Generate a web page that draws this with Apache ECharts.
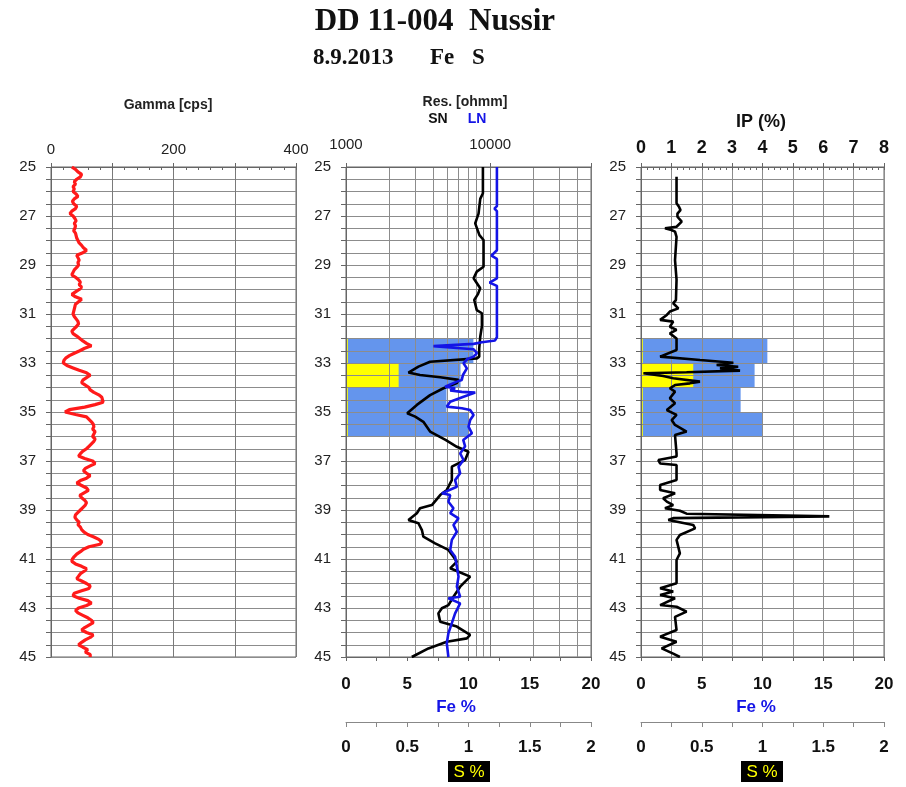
<!DOCTYPE html>
<html>
<head>
<meta charset="utf-8">
<script src="https://cdn.jsdelivr.net/npm/echarts@6/dist/echarts.min.js"></script>
<style>
  html, body { margin: 0; padding: 0; background: #ffffff; }
  #chart { width: 906px; height: 787px; }
</style>
</head>
<body>
<div id="chart"></div>
<script>
// ---- Borehole DD 11-004 log data (depth in m) ----
const depthLabels = [25, 27, 29, 31, 33, 35, 37, 39, 41, 43, 45];
const gammaTickLabels = [0, 200, 400];
const resTickLabels = [1000, 10000];
const resGridValues = [2000, 3000, 4000, 5000, 6000, 7000, 8000, 9000, 20000, 30000, 40000];
const ipTickLabels = [0, 1, 2, 3, 4, 5, 6, 7, 8];
const feTickLabels = [0, 5, 10, 15, 20];
const sTickLabels = [0, 0.5, 1, 1.5, 2];

// Gamma [cps]: [depth, cps]
const gammaLog = [
  [25.0,34],[25.1,40],[25.2,44],[25.3,50],[25.4,48],[25.5,42],[25.6,38],[25.7,40],[25.8,36],[25.9,38],
  [26.0,36],[26.1,41],[26.2,44],[26.3,38],[26.4,35],[26.5,37],[26.6,42],[26.7,40],[26.8,34],[26.9,31],
  [27.0,36],[27.1,39],[27.2,41],[27.3,38],[27.4,40],[27.5,39],[27.6,37],[27.7,40],[27.8,41],[27.9,42],
  [28.0,44],[28.1,46],[28.2,50],[28.3,53],[28.4,58],[28.5,52],[28.6,42],[28.7,44],[28.8,46],[28.9,44],
  [29.0,45],[29.1,42],[29.2,38],[29.3,36],[29.4,34],[29.5,40],[29.6,45],[29.7,48],[29.8,46],[29.9,50],
  [30.0,46],[30.1,40],[30.2,34],[30.3,40],[30.4,50],[30.5,45],[30.6,40],[30.7,39],[30.8,38],[30.9,37],
  [31.0,36],[31.1,38],[31.2,41],[31.3,44],[31.4,45],[31.5,42],[31.6,38],[31.7,34],[31.8,36],[31.9,42],
  [32.0,47],[32.1,52],[32.2,58],[32.3,66],[32.4,55],[32.5,47],[32.6,38],[32.7,30],[32.8,24],[32.9,21],
  [33.0,20],[33.1,26],[33.2,36],[33.3,46],[33.4,58],[33.5,64],[33.6,58],[33.7,52],[33.8,50],[33.9,56],
  [34.0,62],[34.1,64],[34.2,70],[34.3,78],[34.4,83],[34.5,84],[34.6,85],[34.7,72],[34.8,55],[34.9,30],
  [35.0,23],[35.1,40],[35.2,58],[35.3,62],[35.4,66],[35.5,69],[35.6,70],[35.7,68],[35.8,72],[35.9,70],
  [36.0,68],[36.1,72],[36.2,70],[36.3,66],[36.4,62],[36.5,58],[36.6,52],[36.7,48],[36.8,45],[36.9,55],
  [37.0,68],[37.1,72],[37.2,64],[37.3,56],[37.4,53],[37.5,58],[37.6,64],[37.7,58],[37.8,48],[37.9,42],
  [38.0,50],[38.1,58],[38.2,61],[38.3,54],[38.4,47],[38.5,50],[38.6,55],[38.7,58],[38.8,56],[38.9,52],
  [39.0,48],[39.1,44],[39.2,40],[39.3,39],[39.4,42],[39.5,46],[39.6,44],[39.7,48],[39.8,50],[39.9,54],
  [40.0,60],[40.1,70],[40.2,78],[40.3,83],[40.4,80],[40.5,62],[40.6,53],[40.7,48],[40.8,42],[40.9,38],
  [41.0,35],[41.1,34],[41.2,40],[41.3,50],[41.4,58],[41.5,54],[41.6,48],[41.7,45],[41.8,42],[41.9,50],
  [42.0,58],[42.1,64],[42.2,62],[42.3,50],[42.4,38],[42.5,36],[42.6,46],[42.7,60],[42.8,66],[42.9,58],
  [43.0,45],[43.1,40],[43.2,44],[43.3,52],[43.4,60],[43.5,66],[43.6,69],[43.7,62],[43.8,55],[43.9,50],
  [44.0,58],[44.1,69],[44.2,64],[44.3,56],[44.4,50],[44.5,45],[44.6,52],[44.7,60],[44.8,56],[44.9,64],
  [45.0,64]
];

// Short normal resistivity [depth, ohmm]
const resSN = [
  [25.0,8900],[25.5,8900],[26.07,8900],[26.3,8530],[26.9,8300],[27.3,7870],[27.78,8420],[27.98,8990],
  [28.5,8990],[29.07,8990],[29.27,8070],[29.54,7670],[29.95,8530],[30.2,8200],[30.43,7750],[30.84,8070],
  [30.97,8760],[31.5,8760],[31.93,8530],[32.4,8390],[32.74,8390],[32.81,8090],[32.95,3830],[33.15,3180],
  [33.39,2710],[33.49,3260],[33.58,4500],[33.69,6030],[33.82,5870],[34.03,4740],[34.31,3830],[34.71,3100],
  [35.05,2660],[35.19,3020],[35.40,3440],[35.80,3830],[36.14,4900],[36.42,5870],[36.62,7070],[36.96,6700],
  [37.23,5420],[37.78,5420],[38.18,5000],[38.39,4500],[38.80,3940],[38.93,3260],[39.13,3100],[39.41,2710],
  [39.54,3180],[39.82,3360],[40.09,3440],[40.36,4150],[40.63,5130],[40.91,5560],[41.11,5870],[41.38,5280],
  [41.52,6030],[41.72,7260],[42.13,6190],[42.54,5560],[42.88,5130],[43.01,4620],[43.22,4370],[43.56,4500],
  [43.76,5870],[44.10,7260],[44.24,6890],[44.38,5000],[44.65,3730],[45.0,2860]
];

// Long normal resistivity [depth, ohmm]
const resLN = [
  [25.0,11130],[26.6,11130],[26.7,10700],[26.8,11130],[28.4,11130],[28.62,10200],[28.75,11130],
  [29.55,11130],[29.72,9900],[29.85,11130],[31.95,11130],[32.08,10800],[32.15,8760],[32.22,7670],
  [32.31,4040],[32.36,5000],[32.44,7670],[32.6,8090],[32.74,7670],[32.85,6890],[33.01,6530],[33.22,6890],
  [33.49,6470],[33.69,6350],[33.76,5870],[33.97,4870],[34.03,5710],[34.12,5280],[34.18,6350],[34.21,7870],
  [34.38,6530],[34.58,5280],[34.78,5000],[34.85,6350],[34.92,7260],[35.12,7670],[35.33,7260],[35.6,7070],
  [35.87,7470],[36.14,6500],[36.4,6700],[36.69,6190],[36.96,6530],[37.23,6030],[37.5,6190],[37.78,5710],
  [38.05,5870],[38.32,4620],[38.39,5280],[38.66,5130],[38.93,5560],[39.13,5280],[39.34,6030],[39.61,5560],
  [39.89,5870],[40.22,5420],[40.63,5280],[40.91,5710],[41.31,5870],[41.72,6030],[42.13,5870],[42.54,6190],
  [42.6,5130],[42.81,6190],[43.22,5710],[43.62,5420],[44.03,5130],[44.44,5000],[45.0,5130]
];

// Induced polarization [depth, %]
const ipLog = [
  [25.4,1.17],[26.48,1.17],[26.62,1.25],[26.76,1.3],[26.9,1.2],[27.03,1.2],[27.23,1.34],[27.44,1.17],
  [27.5,0.79],[27.57,1.0],[27.64,1.12],[27.85,1.17],[28.8,1.12],[29.6,1.17],[30.43,1.15],[30.56,1.06],
  [30.77,1.23],[30.9,0.95],[31.04,0.85],[31.24,0.63],[31.31,1.06],[31.52,0.95],[31.65,1.17],[31.79,0.95],
  [32.0,1.17],[32.47,1.17],[32.74,0.63],[32.88,1.94],[32.99,3.04],[33.08,2.49],[33.15,3.2],[33.22,2.6],
  [33.31,3.26],[33.38,1.5],[33.42,0.08],[33.53,0.73],[33.62,1.06],[33.76,1.94],[33.83,1.61],[33.9,1.12],
  [34.03,0.95],[34.17,1.12],[34.44,0.95],[34.64,1.12],[34.92,0.85],[35.12,1.17],[35.33,1.01],[35.53,1.12],
  [35.8,1.5],[35.94,1.12],[36.69,1.17],[36.82,1.17],[36.96,0.57],[37.1,0.63],[37.16,1.17],[37.78,1.17],
  [37.98,0.63],[38.18,0.63],[38.32,1.12],[38.52,0.73],[38.66,0.85],[38.8,1.06],[38.93,0.79],[39.03,1.28],
  [39.15,1.5],[39.26,6.2],[39.33,1.06],[39.41,0.9],[39.61,1.72],[39.75,1.78],[40.02,1.28],[40.22,1.17],
  [40.77,1.28],[41.04,1.17],[41.99,1.17],[42.19,0.63],[42.33,1.06],[42.47,0.63],[42.6,1.12],[42.88,0.63],
  [42.95,1.17],[43.15,1.5],[43.36,1.12],[43.9,1.17],[44.17,0.63],[44.38,1.17],[44.65,0.68],[44.86,1.06],
  [45.0,1.28]
];

// Assay intervals
const assayTop    = [32, 33, 34, 35];
const assayBottom = [33, 34, 35, 36];
const feValues    = [10.4, 9.35, 8.2, 10.0];
const sValues     = [0.015, 0.43, 0.015, 0.015];

// ---- helpers ----
const SANS = 'Liberation Sans, Arial, sans-serif';
const SERIF = 'Liberation Serif, Times New Roman, serif';
const GRID_COLOR = '#8c8c8c';
const AXIS_COLOR = '#666';

const swap = arr => arr.map(p => [p[1], p[0]]);
const near = (list, v) => list.some(t => Math.abs(t - v) < 1e-6);

const feBands = assayTop.map((t, i) => [feValues[i], t, assayBottom[i]]);
const sBands  = assayTop.map((t, i) => [sValues[i], t, assayBottom[i]]);

function bandRenderer(color) {
  return function (params, api) {
    const p0 = api.coord([0, api.value(1)]);
    const p1 = api.coord([api.value(0), api.value(2)]);
    return {
      type: 'rect',
      shape: { x: p0[0], y: p0[1], width: p1[0] - p0[0], height: p1[1] - p0[1] },
      style: { fill: color }
    };
  };
}

const panels = [
  { left: 51, width: 245 },
  { left: 346, width: 245 },
  { left: 641, width: 243 }
];

function depthAxis(i) {
  return {
    gridIndex: i, type: 'value', inverse: true, min: 25, max: 45, interval: 0.5, z: 4,
    axisLine: { show: true, lineStyle: { color: AXIS_COLOR, width: 1 } },
    axisTick: { show: true, length: 5, lineStyle: { color: AXIS_COLOR } },
    axisLabel: {
      margin: 15, fontSize: 15, color: '#222', fontFamily: SANS,
      formatter: v => near(depthLabels, v) ? String(v) : ''
    },
    splitLine: { show: true, lineStyle: { color: GRID_COLOR, width: 1 } }
  };
}

function feAxis(i) {
  return {
    gridIndex: i, type: 'value', position: 'bottom', min: 0, max: 20, interval: 2.5, z: 4,
    axisLine: { show: true, lineStyle: { color: AXIS_COLOR } },
    axisTick: { show: true, length: 4, lineStyle: { color: AXIS_COLOR } },
    axisLabel: {
      margin: 19, fontSize: 17, fontWeight: 'bold', color: '#111', fontFamily: SANS,
      formatter: v => near(feTickLabels, v) ? String(v) : ''
    },
    splitLine: { show: false }
  };
}

function sAxis(i) {
  return {
    gridIndex: i, type: 'value', position: 'bottom', offset: 65, min: 0, max: 2, interval: 0.25, z: 4,
    axisLine: { show: true, lineStyle: { color: '#888' } },
    axisTick: { show: true, length: 5, lineStyle: { color: '#888' } },
    axisLabel: {
      margin: 17, fontSize: 17, fontWeight: 'bold', color: '#111', fontFamily: SANS,
      formatter: v => near(sTickLabels, v) ? String(v) : ''
    },
    splitLine: { show: false }
  };
}

const xAxes = [
  // 0: gamma scale (top)
  {
    gridIndex: 0, type: 'value', position: 'top', min: 0, max: 400, interval: 100, z: 4,
    axisLine: { show: true, lineStyle: { color: AXIS_COLOR } },
    axisTick: { show: true, length: 4, lineStyle: { color: AXIS_COLOR } },
    axisLabel: {
      margin: 10, fontSize: 15, color: '#222', fontFamily: SANS,
      formatter: v => near(gammaTickLabels, v) ? String(v) : ''
    },
    splitLine: { show: true, lineStyle: { color: '#7a7a7a', width: 1 } }
  },
  // 1: gamma minor ticks
  {
    gridIndex: 0, type: 'value', position: 'top', min: 0, max: 400, interval: 20, z: 4,
    axisLine: { show: false }, axisLabel: { show: false }, splitLine: { show: false },
    axisTick: { show: true, inside: true, length: 3, lineStyle: { color: AXIS_COLOR } }
  },
  // 2: resistivity (log, top)
  {
    gridIndex: 1, type: 'log', logBase: 10, position: 'top', min: 1000, max: 50000, z: 4,
    axisLine: { show: true, lineStyle: { color: AXIS_COLOR } },
    axisTick: { show: true, length: 4, lineStyle: { color: AXIS_COLOR } },
    axisLabel: {
      margin: 15, fontSize: 15, color: '#222', fontFamily: SANS,
      formatter: v => near(resTickLabels, v) ? String(v) : ''
    },
    splitLine: { show: true, lineStyle: { color: '#7a7a7a', width: 1 } }
  },
  // 3: Fe % (panel 2)
  feAxis(1),
  // 4: S % (panel 2)
  sAxis(1),
  // 5: IP (top)
  {
    gridIndex: 2, type: 'value', position: 'top', min: 0, max: 8, interval: 1, z: 4,
    axisLine: { show: true, lineStyle: { color: AXIS_COLOR } },
    axisTick: { show: true, length: 4, lineStyle: { color: AXIS_COLOR } },
    axisLabel: {
      margin: 10, fontSize: 18, fontWeight: 'bold', color: '#111', fontFamily: SANS,
      formatter: v => near(ipTickLabels, v) ? String(v) : ''
    },
    splitLine: { show: true, lineStyle: { color: GRID_COLOR, width: 1 } }
  },
  // 6: IP minor ticks
  {
    gridIndex: 2, type: 'value', position: 'top', min: 0, max: 8, interval: 0.2, z: 4,
    axisLine: { show: false }, axisLabel: { show: false }, splitLine: { show: false },
    axisTick: { show: true, inside: true, length: 3, lineStyle: { color: AXIS_COLOR } }
  },
  // 7: Fe % (panel 3)
  feAxis(2),
  // 8: S % (panel 3)
  sAxis(2)
];

const lineBase = { type: 'line', showSymbol: false, symbol: 'none', smooth: false, z: 10, animation: false };

const option = {
  animation: false,
  backgroundColor: '#ffffff',
  grid: panels.map(p => ({
    left: p.left, top: 167, width: p.width, height: 490,
    show: true, borderColor: AXIS_COLOR, borderWidth: 1, backgroundColor: 'transparent'
  })),
  xAxis: xAxes,
  yAxis: [depthAxis(0), depthAxis(1), depthAxis(2)],
  series: [
    Object.assign({}, lineBase, {
      name: 'Gamma', xAxisIndex: 0, yAxisIndex: 0, data: swap(gammaLog),
      lineStyle: { color: '#ff1a1a', width: 3.2 }
    }),
    {
      type: 'custom', name: 'Fe', xAxisIndex: 3, yAxisIndex: 1, z: 1, animation: false,
      encode: { x: 0, y: [1, 2] }, renderItem: bandRenderer('#6495ed'), data: feBands
    },
    {
      type: 'custom', name: 'S', xAxisIndex: 4, yAxisIndex: 1, z: 2, animation: false,
      encode: { x: 0, y: [1, 2] }, renderItem: bandRenderer('#ffff00'), data: sBands
    },
    Object.assign({}, lineBase, {
      name: 'SN', xAxisIndex: 2, yAxisIndex: 1, data: swap(resSN),
      lineStyle: { color: '#000000', width: 2.6 },
      markLine: {
        silent: true, z: 3, animation: false, symbol: ['none', 'none'],
        label: { show: false },
        lineStyle: { color: GRID_COLOR, type: 'solid', width: 1 },
        emphasis: { disabled: true },
        data: resGridValues.map(v => ({ xAxis: v }))
      }
    }),
    Object.assign({}, lineBase, {
      name: 'LN', xAxisIndex: 2, yAxisIndex: 1, data: swap(resLN),
      lineStyle: { color: '#1414e6', width: 2.6 }
    }),
    {
      type: 'custom', name: 'Fe', xAxisIndex: 7, yAxisIndex: 2, z: 1, animation: false,
      encode: { x: 0, y: [1, 2] }, renderItem: bandRenderer('#6495ed'), data: feBands
    },
    {
      type: 'custom', name: 'S', xAxisIndex: 8, yAxisIndex: 2, z: 2, animation: false,
      encode: { x: 0, y: [1, 2] }, renderItem: bandRenderer('#ffff00'), data: sBands
    },
    Object.assign({}, lineBase, {
      name: 'IP', xAxisIndex: 5, yAxisIndex: 2, data: swap(ipLog),
      lineStyle: { color: '#000000', width: 2.6 }
    })
  ],
  graphic: [
    { type: 'text', x: 435, y: 22, style: { text: 'DD 11-004  Nussir', font: 'bold 31px ' + SERIF, fill: '#111', align: 'center', verticalAlign: 'middle' } },
    { type: 'text', x: 313, y: 58, style: { text: '8.9.2013', font: 'bold 23px ' + SERIF, fill: '#111', verticalAlign: 'middle' } },
    { type: 'text', x: 430, y: 58, style: { text: 'Fe', font: 'bold 23px ' + SERIF, fill: '#111', verticalAlign: 'middle' } },
    { type: 'text', x: 472, y: 58, style: { text: 'S', font: 'bold 23px ' + SERIF, fill: '#111', verticalAlign: 'middle' } },

    { type: 'text', x: 168, y: 105, style: { text: 'Gamma [cps]', font: 'bold 14px ' + SANS, fill: '#222', align: 'center', verticalAlign: 'middle' } },
    { type: 'text', x: 465, y: 102, style: { text: 'Res. [ohmm]', font: 'bold 14px ' + SANS, fill: '#222', align: 'center', verticalAlign: 'middle' } },
    { type: 'text', x: 438, y: 119, style: { text: 'SN', font: 'bold 14px ' + SANS, fill: '#111', align: 'center', verticalAlign: 'middle' } },
    { type: 'text', x: 477, y: 119, style: { text: 'LN', font: 'bold 14px ' + SANS, fill: '#1414e6', align: 'center', verticalAlign: 'middle' } },
    { type: 'text', x: 761, y: 122, style: { text: 'IP (%)', font: 'bold 18px ' + SANS, fill: '#111', align: 'center', verticalAlign: 'middle' } },

    { type: 'text', x: 456, y: 707, style: { text: 'Fe %', font: 'bold 17px ' + SANS, fill: '#1414e6', align: 'center', verticalAlign: 'middle' } },
    { type: 'text', x: 756, y: 707, style: { text: 'Fe %', font: 'bold 17px ' + SANS, fill: '#1414e6', align: 'center', verticalAlign: 'middle' } },

    { type: 'rect', shape: { x: 448, y: 761, width: 42, height: 21 }, style: { fill: '#000' } },
    { type: 'text', x: 469, y: 772, style: { text: 'S %', font: '17px ' + SANS, fill: '#ffff00', align: 'center', verticalAlign: 'middle' } },
    { type: 'rect', shape: { x: 741, y: 761, width: 42, height: 21 }, style: { fill: '#000' } },
    { type: 'text', x: 762, y: 772, style: { text: 'S %', font: '17px ' + SANS, fill: '#ffff00', align: 'center', verticalAlign: 'middle' } }
  ]
};

const chart = echarts.init(document.getElementById('chart'), null, { renderer: 'canvas' });
chart.setOption(option);
</script>
</body>
</html>
